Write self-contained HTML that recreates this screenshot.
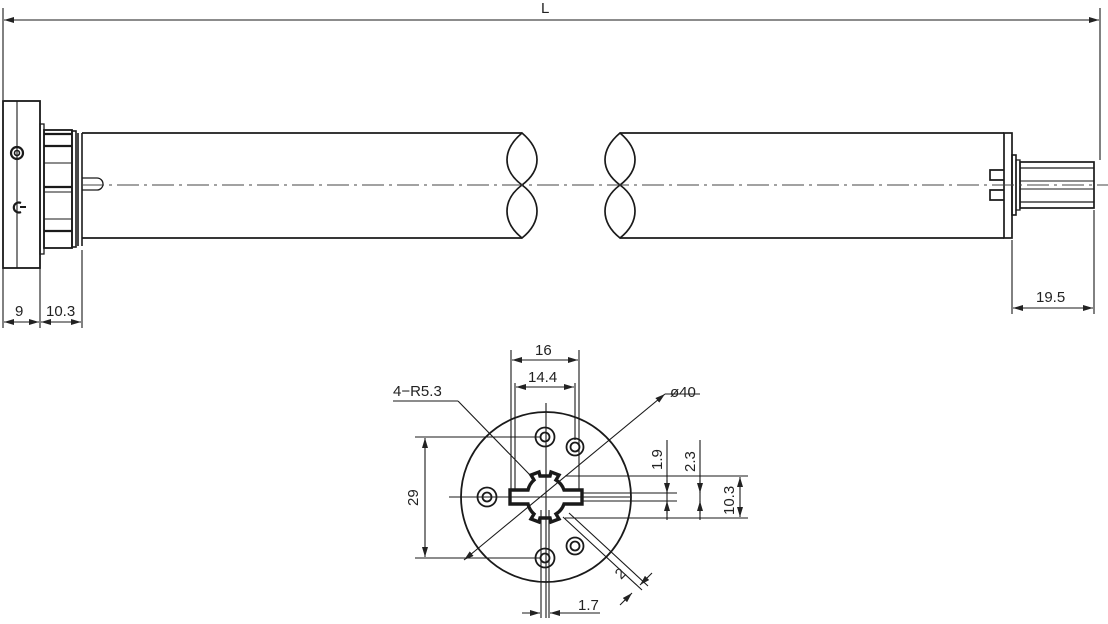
<!DOCTYPE html>
<html><head><style>html,body{margin:0;padding:0;background:#fff}svg{display:block}text{font-family:"Liberation Sans",sans-serif;fill:#222}</style></head>
<body>
<svg width="1108" height="624" viewBox="0 0 1108 624" xmlns="http://www.w3.org/2000/svg">
<defs>
<marker id="a" viewBox="0 0 10 6" refX="10" refY="3" markerWidth="10" markerHeight="6" orient="auto-start-reverse" markerUnits="userSpaceOnUse"><path d="M0,0L10,3L0,6z" fill="#222"/></marker>
</defs>
<g stroke="#1a1a1a" fill="none" stroke-width="1.1">
<line x1="3" y1="8" x2="3" y2="100"/>
<line x1="1100" y1="8" x2="1100" y2="160"/>
<line x1="4" y1="20" x2="1099" y2="20" marker-start="url(#a)" marker-end="url(#a)"/>
<rect x="3" y="101" width="37" height="167" stroke-width="1.8"/>
<line x1="17" y1="101" x2="17" y2="268"/>
<circle cx="17" cy="153" r="6" stroke-width="2.2"/><circle cx="17" cy="153" r="2.5" stroke-width="1.6"/>
<path d="M21,203 A5,5 0 1 0 21,212" stroke-width="2.2"/><line x1="20" y1="207" x2="26" y2="207" stroke-width="2"/>
<rect x="40" y="124" width="4" height="130" stroke-width="1.3"/>
<rect x="44" y="130" width="28" height="118" stroke-width="1.8"/>
<line x1="44" y1="134" x2="72" y2="134" stroke-width="2.2"/>
<line x1="44" y1="146" x2="72" y2="146" stroke-width="2.2"/>
<line x1="44" y1="163" x2="72" y2="163"/>
<line x1="44" y1="187" x2="72" y2="187" stroke-width="2.2"/>
<line x1="44" y1="192" x2="72" y2="192"/>
<line x1="44" y1="219" x2="72" y2="219"/>
<line x1="44" y1="231" x2="72" y2="231" stroke-width="2.2"/>
<rect x="72" y="131" width="4" height="116" stroke-width="1.6"/>
<line x1="78" y1="133" x2="78" y2="246" stroke-width="1.6"/>
<line x1="82" y1="133" x2="82" y2="246" stroke-width="1.6"/>
<path d="M82,178 L97,178 A6,6 0 0 1 97,190 L82,190" stroke-width="1.3"/>
<line x1="82" y1="133" x2="522" y2="133" stroke-width="1.7"/>
<line x1="82" y1="238" x2="522" y2="238" stroke-width="1.7"/>
<path d="M522,133 C502,150 502,170 522,185 C542,170 542,150 522,133 Z" stroke-width="1.7"/>
<path d="M522,185 C502,200 502,222 522,238 C542,222 542,200 522,185" stroke-width="1.7"/>
<path d="M620,133 C600,150 600,170 620,185 C640,170 640,150 620,133 Z" stroke-width="1.7"/>
<path d="M620,185 C600,200 600,222 620,238 C640,222 640,200 620,185" stroke-width="1.7"/>
<line x1="620" y1="133" x2="1004" y2="133" stroke-width="1.7"/>
<line x1="620" y1="238" x2="1004" y2="238" stroke-width="1.7"/>
<rect x="1004" y="133" width="8" height="105" stroke-width="1.7"/>
<path d="M1004,170 L990,170 L990,180 L1004,180 M1004,190 L990,190 L990,200 L1004,200" stroke-width="1.7"/>
<rect x="1012" y="155" width="4" height="60" stroke-width="1.6"/>
<rect x="1016" y="160" width="4" height="50" stroke-width="1.3"/>
<rect x="1020" y="162" width="74" height="46" stroke-width="1.7"/>
<line x1="1020" y1="168" x2="1094" y2="168" stroke-width="1.3"/>
<line x1="1020" y1="181" x2="1094" y2="181"/>
<line x1="1020" y1="189" x2="1094" y2="189"/>
<line x1="1020" y1="202" x2="1094" y2="202" stroke-width="1.3"/>
<line x1="82" y1="185" x2="1108" y2="185" stroke-dasharray="22,5,3,5" stroke="#444"/>
<line x1="3" y1="268" x2="3" y2="328"/>
<line x1="40" y1="268" x2="40" y2="328"/>
<line x1="82" y1="250" x2="82" y2="328"/>
<line x1="4" y1="322" x2="39" y2="322" marker-start="url(#a)" marker-end="url(#a)"/>
<line x1="41" y1="322" x2="81" y2="322" marker-start="url(#a)" marker-end="url(#a)"/>
<line x1="1012" y1="240" x2="1012" y2="314"/>
<line x1="1094" y1="210" x2="1094" y2="314"/>
<line x1="1013" y1="308" x2="1093" y2="308" marker-start="url(#a)" marker-end="url(#a)"/>
<circle cx="546" cy="497" r="85" stroke-width="1.8"/>
<line x1="546" y1="403" x2="546" y2="618"/>
<line x1="449" y1="497" x2="630" y2="497"/>
<line x1="541" y1="510" x2="541" y2="618"/><line x1="549" y1="510" x2="549" y2="618"/>
<g stroke-width="1.8">
<circle cx="545" cy="437" r="9.5"/><circle cx="545" cy="437" r="4.5"/>
<circle cx="575" cy="447" r="8.5"/><circle cx="575" cy="447" r="4.5"/>
<circle cx="487" cy="497" r="9.5"/><circle cx="487" cy="497" r="4.5"/>
<circle cx="545" cy="558" r="9.5"/><circle cx="545" cy="558" r="4.5"/>
<circle cx="575" cy="546" r="8.5"/><circle cx="575" cy="546" r="4.5"/>
</g>
<path d="M510,490 L528,490 A19,19 0 0 1 534,480 L531,475 L539,472 L540,476 L550,476 L551,472 L559,475 L556,480 A19,19 0 0 1 564,490 L582,490 L582,504 L564,504 A19,19 0 0 1 556,514 L559,519 L551,522 L550,518 L540,518 L539,522 L531,519 L534,514 A19,19 0 0 1 528,504 L510,504 Z" stroke-width="3.4"/>
<line x1="516" y1="497" x2="580" y2="497" stroke-dasharray="8,3"/>
<line x1="511" y1="350" x2="511" y2="490"/><line x1="579" y1="350" x2="579" y2="490"/>
<line x1="515" y1="383" x2="515" y2="490"/><line x1="575" y1="383" x2="575" y2="440"/>
<line x1="512" y1="360" x2="578" y2="360" marker-start="url(#a)" marker-end="url(#a)"/>
<line x1="516" y1="387" x2="574" y2="387" marker-start="url(#a)" marker-end="url(#a)"/>
<line x1="415" y1="437" x2="540" y2="437"/><line x1="415" y1="558" x2="540" y2="558"/>
<line x1="425" y1="438" x2="425" y2="557" marker-start="url(#a)" marker-end="url(#a)"/>
<line x1="565" y1="476" x2="748" y2="476"/><line x1="565" y1="518" x2="748" y2="518"/>
<line x1="582" y1="493" x2="677" y2="493"/><line x1="582" y1="501" x2="677" y2="501"/>
<line x1="667" y1="440" x2="667" y2="520"/><line x1="700" y1="440" x2="700" y2="520"/>
<line x1="667" y1="480" x2="667" y2="493" marker-end="url(#a)"/>
<line x1="667" y1="514" x2="667" y2="501" marker-end="url(#a)"/>
<line x1="700" y1="480" x2="700" y2="493" marker-end="url(#a)"/>
<line x1="700" y1="514" x2="700" y2="501" marker-end="url(#a)"/>
<line x1="740" y1="477" x2="740" y2="517" marker-start="url(#a)" marker-end="url(#a)"/>
<line x1="393" y1="401" x2="458" y2="401"/>
<line x1="458" y1="401" x2="530" y2="475"/>
<line x1="665" y1="394" x2="700" y2="394"/>
<line x1="665" y1="394" x2="464" y2="560" marker-start="url(#a)" marker-end="url(#a)"/>
<line x1="563" y1="517" x2="642" y2="590"/><line x1="569" y1="513" x2="648" y2="586"/>
<line x1="652" y1="573" x2="640" y2="585" marker-end="url(#a)"/>
<line x1="620" y1="605" x2="632" y2="593" marker-end="url(#a)"/>
<line x1="522" y1="613" x2="540" y2="613" marker-end="url(#a)"/>
<line x1="600" y1="613" x2="550" y2="613" marker-end="url(#a)"/>
</g>
<g font-size="15">
<text x="541" y="13">L</text>
<text x="15" y="316">9</text>
<text x="46" y="316">10.3</text>
<text x="1036" y="302">19.5</text>
<text x="535" y="355">16</text>
<text x="528" y="382">14.4</text>
<text x="393" y="396">4−R5.3</text>
<text x="670" y="397">ø40</text>
<text x="578" y="610">1.7</text>
<text transform="translate(418,506) rotate(-90)">29</text>
<text transform="translate(662,470) rotate(-90)">1.9</text>
<text transform="translate(695,472) rotate(-90)">2.3</text>
<text transform="translate(734,515) rotate(-90)">10.3</text>
<text transform="translate(621,580) rotate(-45)">2</text>
</g>
</svg>
</body></html>
